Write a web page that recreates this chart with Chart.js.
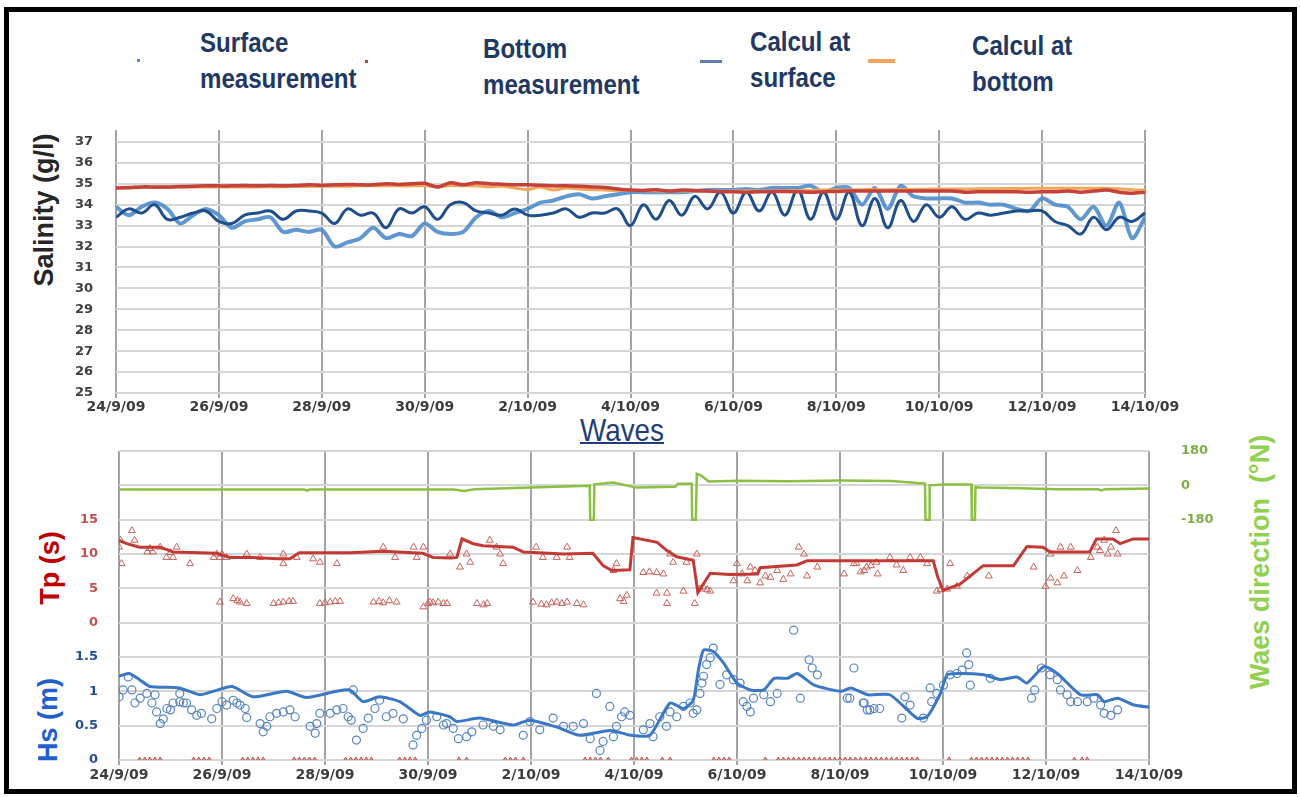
<!DOCTYPE html>
<html>
<head>
<meta charset="utf-8">
<title>Salinity and waves</title>
<script src="https://cdn.jsdelivr.net/npm/chart.js@4.4.1/dist/chart.umd.min.js"></script>
<style>
  html, body { margin: 0; padding: 0; background: #fff; }
  body { width: 1300px; height: 797px; position: relative; overflow: hidden; font-family: 'Liberation Sans', Arial, sans-serif; }
  .frame { position: absolute; left: 4px; top: 7px; width: 1293px; height: 787px; box-sizing: border-box; border: 5px solid #000; pointer-events: none; z-index: 5; }
  .wrap { position: absolute; left: 0; }
  .leg { position: absolute; font-weight: bold; font-size: 28px; line-height: 36px; color: #1f3864; white-space: nowrap; transform: scaleX(0.86); transform-origin: left top; }
  .mark { position: absolute; }
  .vtitle { position: absolute; font-weight: bold; font-size: 27px; white-space: nowrap; transform: translate(-50%, -50%) rotate(-90deg); }
  .waves { position: absolute; left: 622px; top: 414px; transform: translateX(-50%) scaleX(0.87); font-size: 32px; line-height: 32px; color: #1f3e79; text-decoration: underline; text-decoration-thickness: 2px; }
</style>
</head>
<body>
<div class="frame"></div>

<!-- legend of the salinity chart -->
<div class="mark" style="left:137px;top:59px;width:3px;height:3px;background:#4f8ccc;"></div>
<div class="leg" style="left:200px;top:25px;">Surface<br>measurement</div>
<div class="mark" style="left:365px;top:60px;width:3px;height:3px;background:#c5423a;"></div>
<div class="leg" style="left:483px;top:31px;">Bottom<br>measurement</div>
<div class="mark" style="left:700px;top:60px;width:22px;height:3px;background:#5a7db5;"></div>
<div class="leg" style="left:750px;top:24px;">Calcul at<br>surface</div>
<div class="mark" style="left:868px;top:59px;width:27px;height:4px;background:#f4a460;"></div>
<div class="leg" style="left:972px;top:28px;">Calcul at<br>bottom</div>

<div class="vtitle" style="left:44px;top:210px;color:#262626;">Salinity (g/l)</div>
<div class="waves">Waves</div>
<div class="vtitle" style="left:50px;top:568px;color:#c00000;">Tp (s)</div>
<div class="vtitle" style="left:48px;top:720px;color:#1f5fcf;">Hs (m)</div>
<div class="vtitle" style="left:1260px;top:562px;color:#92d050;">Waes direction&nbsp;&nbsp;(°N)</div>

<div class="wrap" style="top:120px;"><canvas id="salChart" width="1300" height="300"></canvas></div>
<div class="wrap" style="top:440px;"><canvas id="waveChart" width="1300" height="357"></canvas></div>

<script>
// Day ticks: every 2 days from 24/9/09
const dateLabels = ['24/9/09', '26/9/09', '28/9/09', '30/9/09', '2/10/09', '4/10/09',
  '6/10/09', '8/10/09', '10/10/09', '12/10/09', '14/10/09'];
const salTicks = [25, 26, 27, 28, 29, 30, 31, 32, 33, 34, 35, 36, 37];
const tpTicks = [0, 5, 10, 15];
const hsTicks = [0, 0.5, 1, 1.5];
const dirTicks = [-180, 0, 180];

// Salinity (g/l), 4 samples a day from 24/9 (day 0) to 14/10 (day 20)
const surfaceMeas = [
  33.9, 33.5, 33.9, 34.1,  33.8, 33.1, 33.5, 33.8,  33.5, 32.9, 33.2, 33.3,
  33.4, 32.7, 32.8, 32.7,  32.8, 32.0, 32.2, 32.4,  32.9, 32.4, 32.6, 32.5,
  33.1, 32.7, 32.6, 32.7,  33.4, 33.7, 33.4, 33.6,  33.8, 34.1, 34.2, 34.4,
  34.5, 34.3, 34.4, 34.5,  34.6, 34.6, 34.6, 34.6,  34.6, 34.65, 34.7, 34.7,
  34.7, 34.75, 34.7, 34.8, 34.8, 34.8, 34.9, 34.6,  34.8, 34.8, 34.0, 34.8,
  33.8, 34.9, 34.4, 34.3,  34.3, 34.3, 34.1, 34.1,  34.0, 34.0, 33.8, 33.7,
  34.3, 34.0, 33.9, 33.3,  33.9, 33.0, 34.1, 32.4,  33.4
];
const bottomMeas = [
  34.8, 34.82, 34.85, 34.85,  34.85, 34.87, 34.88, 34.9,  34.9, 34.9, 34.92, 34.9,
  34.92, 34.9, 34.92, 34.95,  34.93, 34.95, 34.97, 34.95,  34.95, 35.0, 34.97, 35.0,
  35.02, 34.85, 35.05, 34.95, 35.05, 35.0, 34.98, 34.95,  34.95, 34.93, 34.9, 34.9,
  34.88, 34.85, 34.82, 34.75, 34.7, 34.68, 34.72, 34.65,  34.7, 34.68, 34.65, 34.62,
  34.62, 34.6, 34.62, 34.62,  34.63, 34.62, 34.6, 34.62,  34.63, 34.65, 34.65, 34.65,
  34.65, 34.65, 34.65, 34.66, 34.65, 34.65, 34.6, 34.62,  34.62, 34.62, 34.62, 34.6,
  34.62, 34.62, 34.65, 34.6,  34.65, 34.7, 34.6, 34.55,  34.6
];
const calcSurface = [
  33.4, 33.8, 33.6, 34.0,  33.3, 33.4, 33.6, 33.7,  33.2, 33.1, 33.5, 33.6,
  33.7, 33.3, 33.7, 33.7,  33.6, 33.1, 33.8, 33.5,  33.6, 32.9, 33.8, 33.6,
  33.9, 33.3, 34.0, 34.1,  33.7, 33.6, 33.5, 33.8,  33.5, 33.5, 33.6, 33.8,
  33.4, 33.6, 33.6, 33.8,  33.0, 34.0, 33.3, 34.2,  33.5, 34.4, 33.8, 34.6,
  33.6, 34.6, 33.7, 34.6,  33.5, 34.7, 33.3, 34.6,  33.3, 34.6, 33.0, 34.3,
  32.9, 34.2, 33.2, 34.0,  33.4, 33.9, 33.3, 33.6,  33.5, 33.6, 33.7, 33.7,
  33.7, 33.2, 33.0, 32.6,  33.4, 32.8, 33.4, 33.2,  33.6
];
const calcBottom = [
  34.8, 34.8, 34.82, 34.82,  34.83, 34.83, 34.85, 34.85,  34.85, 34.85, 34.85, 34.85,
  34.86, 34.86, 34.87, 34.87,  34.88, 34.88, 34.88, 34.9,  34.9, 34.9, 34.9, 34.9,
  34.92, 34.85, 34.92, 34.9,  34.9, 34.85, 34.88, 34.8,  34.72, 34.85, 34.7, 34.8,
  34.75, 34.72, 34.7, 34.68,  34.68, 34.67, 34.66, 34.65,  34.65, 34.65, 34.64, 34.64,
  34.65, 34.65, 34.65, 34.66,  34.67, 34.68, 34.68, 34.7,  34.7, 34.7, 34.72, 34.72,
  34.72, 34.73, 34.73, 34.74,  34.75, 34.75, 34.75, 34.76,  34.76, 34.77, 34.77, 34.78,
  34.78, 34.78, 34.78, 34.78,  34.78, 34.78, 34.76, 34.72,  34.7
];
const salDays = surfaceMeas.map((_, i) => i / 4);

// Wave direction (°N)
const dirDays = [0, 2, 3.6, 3.65, 3.7, 4.5, 6.5, 6.7, 6.9, 8, 9.14, 9.15, 9.22, 9.23, 9.6,
  10.05, 10.8, 10.85, 11.12, 11.13, 11.2, 11.22, 11.3, 11.45, 12, 13, 14, 15, 15.5, 15.65,
  15.66, 15.73, 15.74, 16, 16.5, 16.55, 16.56, 16.62, 16.63, 16.75, 17.5, 18.2, 19, 19.07, 19.15, 20];
const dirDeg = [-22, -22, -22, -28, -22, -22, -22, -30, -20, -12, -2, -180, -180, 5, 15,
  -12, -8, 8, 8, -180, -180, 60, 52, 20, 24, 22, 25, 23, 12, 10,
  -180, -180, 0, 5, 5, 5, -180, -180, -10, -12, -15, -20, -20, -27, -20, -17];

// Peak period Tp (s): model line
const tpModelDays = [0, 0.15, 0.4, 0.8, 1.05, 1.57, 1.9, 2.15, 2.6, 3.07, 3.32, 3.5, 4.49, 5.13, 5.9,
  6.1, 6.45, 6.56, 6.66, 6.88, 7.07, 7.65, 7.85, 8.63, 9.2, 9.4, 9.57, 9.92, 9.98, 10.45,
  10.64, 10.83, 11.15, 11.24, 11.48, 11.86, 12.4, 12.45, 13.16, 13.36, 14.78, 15.81, 15.9, 16.0, 16.33,
  16.78, 17.37, 17.63, 17.94, 18.08, 18.85, 18.98, 19.3, 19.44, 19.69, 20];
const tpModel = [12.0, 11.5, 11.0, 11.0, 10.3, 10.2, 10.1, 9.5, 9.5, 9.3, 9.3, 10.2, 10.2, 10.4, 10.1,
  9.5, 9.4, 9.5, 12.2, 11.5, 11.2, 11.0, 10.3, 10.0, 10.1, 8.3, 7.6, 7.7, 12.4, 11.7,
  10.5, 9.6, 9.1, 4.4, 7.2, 7.0, 7.1, 8.0, 8.4, 9.0, 9.0, 9.0, 6.6, 4.7, 5.6,
  8.3, 8.3, 11.1, 11.0, 10.3, 10.3, 12.2, 12.2, 11.5, 12.2, 12.2];

// Tp measurements [day, s]
const tpMeas = [
  [0, 11], [0.03, 12], [0.05, 8.6], [0.25, 13.4], [0.3, 12], [0.55, 10.3], [0.6, 10.8], [0.66, 10.3],
  [0.8, 11], [0.92, 9.5], [1.0, 10.2], [1.05, 9.5], [1.12, 11], [1.38, 8.6], [1.84, 9.5], [1.9, 10],
  [1.96, 9.5], [2.0, 10], [2.09, 9.5], [2.48, 10], [2.74, 9.5], [3.19, 10], [3.19, 8.6], [3.45, 9.5],
  [3.77, 9.3], [3.9, 8.8], [4.23, 8.6], [5.13, 11], [5.36, 9.5], [5.72, 11], [5.78, 9.5], [5.91, 11],
  [1.96, 3.0], [2.22, 3.5], [2.3, 3.2], [2.35, 3.0], [2.48, 2.8], [3.0, 2.8], [3.1, 2.9], [3.19, 3.0],
  [3.3, 3.1], [3.38, 3.1], [3.9, 2.8], [4.0, 2.9], [4.1, 3.0], [4.2, 3.1], [4.29, 3.1], [4.94, 3.0],
  [5.05, 3.1], [5.13, 2.9], [5.25, 3.2], [5.39, 3.0], [5.91, 2.3], [6.0, 2.8], [6.1, 2.9], [6.2, 3.0],
  [6.37, 2.8],
  [6.43, 10], [6.62, 8.1], [6.75, 10], [6.82, 8.8], [7.2, 12], [7.33, 11], [7.4, 10], [7.46, 8.6],
  [8.1, 11], [8.23, 9.5], [8.5, 9.5], [8.7, 11], [8.75, 9.5], [9.6, 7.6], [9.66, 8.6], [10.18, 7.3],
  [10.3, 7.4], [10.44, 7.3], [10.57, 7.1], [10.7, 10], [10.76, 8.8], [11.02, 8.8], [11.22, 10], [11.28, 4.9],
  [11.35, 5.2], [11.42, 4.8], [11.48, 4.6], [11.93, 6.1], [12.0, 8.6], [12.1, 7.1], [12.2, 6.1], [12.26, 8.1],
  [12.35, 7.6], [12.45, 5.8], [12.55, 6.8], [12.65, 6.6], [12.78, 7.6], [12.9, 6.3], [13.04, 7.1], [13.2, 11],
  [13.3, 10], [13.36, 6.8], [13.56, 8.1], [14.08, 7.1], [14.27, 8.6], [14.47, 7.6], [14.6, 8.3], [14.73, 7.1],
  [6.04, 3.0], [6.3, 2.8], [6.95, 2.8], [7.08, 2.6], [7.15, 2.8], [8.04, 3.0], [8.2, 2.7], [8.3, 2.6],
  [8.4, 2.9], [8.5, 3.0], [8.6, 2.8], [8.7, 3.0], [8.89, 2.8], [9.02, 2.6], [9.73, 3.5], [9.8, 3.1],
  [9.86, 4.0], [10.44, 4.3], [10.64, 4.3], [10.64, 2.8], [10.96, 4.6], [11.18, 2.8],
  [14.32, 8.6], [14.4, 7.4], [14.52, 8.1], [14.71, 8.8], [14.97, 9.5], [15.1, 8.4], [15.23, 7.6], [15.36, 9.5],
  [15.56, 9.5], [15.69, 8.6], [15.88, 4.6], [15.95, 4.8], [16.08, 4.9], [16.14, 8.6], [16.27, 5.3], [16.47, 6.8],
  [16.89, 6.8], [17.76, 8.1], [17.99, 5.3], [18.09, 6.5], [18.09, 10], [18.22, 5.8], [18.28, 11], [18.35, 6.8],
  [18.48, 11], [18.61, 7.6], [18.87, 9.5], [19.0, 11], [19.05, 10.5], [19.13, 12], [19.2, 10], [19.26, 11],
  [19.36, 13.4], [19.39, 10]
];

// Significant height Hs (m): model line
const hsModelDays = [0, 0.2, 0.4, 0.6, 1.17, 1.57, 1.83, 2.2, 2.6, 3.25, 3.64, 4.22, 4.48, 4.74, 5.06,
  5.45, 5.84, 6.03, 6.42, 6.56, 7.0, 7.65, 7.97, 8.5, 8.95, 9.54, 9.93, 10.31, 10.7, 10.96,
  11.15, 11.25, 11.35, 11.54, 11.74, 12.0, 12.26, 12.52, 12.72, 12.98, 13.17, 13.5, 14.02, 14.21, 14.54,
  14.97, 15.49, 15.69, 15.95, 16.08, 16.34, 16.79, 17.12, 17.44, 17.63, 17.96, 18.22, 18.67, 19.0, 19.13,
  19.39, 19.71, 20];
const hsModel = [1.22, 1.26, 1.17, 1.07, 1.05, 0.95, 1.0, 1.07, 0.92, 1.0, 0.91, 1.0, 1.02, 0.85, 0.92,
  0.85, 0.65, 0.7, 0.63, 0.56, 0.61, 0.51, 0.58, 0.48, 0.36, 0.43, 0.36, 0.36, 0.83, 0.75,
  0.87, 1.31, 1.6, 1.58, 1.41, 1.12, 1.02, 1.02, 1.19, 1.19, 1.26, 1.09, 1.0, 1.05, 0.95,
  0.95, 0.61, 0.63, 0.97, 1.24, 1.26, 1.24, 1.17, 1.21, 1.12, 1.36, 1.26, 0.95, 0.95, 0.85,
  0.9, 0.8, 0.77];

// Hs measurements [day, m]
const hsMeas = [
  [0, 0.92], [0.08, 1.02], [0.18, 1.21], [0.25, 1.02], [0.31, 0.83], [0.41, 0.9], [0.54, 0.97], [0.64, 0.83],
  [0.7, 0.95], [0.73, 0.7], [0.8, 0.53], [0.86, 0.6], [0.93, 0.75], [1.0, 0.73], [1.05, 0.83], [1.18, 0.85],
  [1.18, 0.97], [1.25, 0.83], [1.31, 0.83], [1.41, 0.73], [1.51, 0.65], [1.6, 0.68], [1.8, 0.6], [1.9, 0.75],
  [2.0, 0.85], [2.09, 0.8], [2.22, 0.87], [2.29, 0.83], [2.35, 0.8], [2.45, 0.75], [2.48, 0.62], [2.74, 0.53],
  [2.8, 0.41], [2.87, 0.49], [2.93, 0.63], [3.06, 0.68], [3.19, 0.7], [3.32, 0.73], [3.42, 0.63], [3.71, 0.49],
  [3.81, 0.39], [3.84, 0.53], [3.9, 0.68], [4.1, 0.68], [4.23, 0.73], [4.35, 0.75], [4.45, 0.63], [4.51, 0.58],
  [4.55, 1.02], [4.61, 0.29], [4.74, 0.46], [4.84, 0.61], [4.97, 0.75], [5.06, 0.87], [5.19, 0.63], [5.32, 0.68],
  [5.52, 0.6], [5.71, 0.22], [5.78, 0.36], [5.88, 0.46], [5.97, 0.58], [6.17, 0.63], [6.36, 0.53],
  [6.3, 0.51], [6.49, 0.46], [6.59, 0.31], [6.75, 0.34], [6.85, 0.41], [7.07, 0.51], [7.27, 0.49], [7.4, 0.44],
  [7.85, 0.36], [7.98, 0.56], [8.17, 0.44], [8.43, 0.61], [8.63, 0.49], [8.82, 0.49], [9.02, 0.53], [9.15, 0.31],
  [9.27, 0.97], [9.34, 0.14], [9.4, 0.27], [9.53, 0.78], [9.6, 0.34], [9.66, 0.49], [9.76, 0.63], [9.82, 0.7],
  [9.92, 0.65], [10.18, 0.44], [10.31, 0.53], [10.37, 0.34], [10.5, 0.63], [10.63, 0.49], [10.7, 0.7], [10.83, 0.63],
  [10.96, 0.78], [11.09, 0.83], [11.15, 0.68], [11.22, 0.73], [11.28, 0.97], [11.32, 1.12], [11.35, 1.22], [11.41, 1.39],
  [11.48, 1.49], [11.54, 1.63], [11.67, 1.1], [11.8, 1.24], [11.93, 1.17], [12.06, 1.12], [12.12, 0.85], [12.19, 0.78],
  [12.26, 0.7], [12.32, 0.9], [12.52, 0.95], [12.65, 0.85], [12.78, 0.97], [13.1, 1.89], [13.23, 0.9], [13.4, 1.46],
  [13.46, 1.34], [13.56, 1.24], [14.14, 0.9], [14.27, 1.34], [14.47, 0.83], [14.53, 0.73], [14.66, 0.75],
  [14.19, 0.9], [14.45, 0.83], [14.58, 0.73], [14.77, 0.75], [15.2, 0.61], [15.26, 0.92], [15.36, 0.8], [15.62, 0.61],
  [15.75, 1.05], [15.78, 0.85], [15.88, 0.97], [16.01, 1.09], [16.14, 1.24], [16.27, 1.26], [16.37, 1.31], [16.46, 1.56],
  [16.5, 1.39], [16.53, 1.09], [16.92, 1.19], [17.72, 0.9], [17.78, 1.02], [17.91, 1.34], [18.08, 1.24], [18.22, 1.17],
  [18.28, 1.02], [18.41, 0.95], [18.48, 0.85], [18.61, 0.85], [18.8, 0.85], [18.93, 0.9], [19.06, 0.8], [19.13, 0.68],
  [19.26, 0.65], [19.39, 0.73]
];
// Days where the record shows Hs = 0
const hsZeroDays = [0.4, 0.5, 0.6, 0.7, 0.8, 1.45, 1.55, 1.65, 1.75, 2.4, 2.5, 2.6, 2.7, 2.8,
  3.4, 3.5, 3.6, 3.7, 3.8, 4.4, 4.5, 4.6, 4.7, 4.8, 4.9, 5.45, 5.55, 5.65, 5.75, 6.6, 6.75,
  7.5, 7.6, 7.7, 7.85, 9.05, 9.15, 9.25, 9.35, 9.5, 9.95, 10.05, 10.15, 10.25, 10.55, 10.7,
  11.55, 11.65, 11.75, 11.85, 12.55, 12.8, 12.9, 13.0, 13.1, 13.2, 13.3, 13.4, 13.5, 13.6, 13.7,
  13.8, 13.9, 14.0, 14.1, 14.2, 14.3, 14.4, 14.5, 14.6, 14.7, 14.8, 14.9, 15.0, 15.1, 15.2, 15.3,
  15.4, 15.5, 16.12, 16.55, 16.65, 16.75, 16.85, 16.95, 17.05, 17.15, 17.25, 17.35, 17.45, 17.55,
  17.65, 18.55, 18.7, 18.8];

const pts = (xs, ys) => xs.map((x, i) => ({ x: x, y: ys[i] }));
const pairPts = (list) => list.map(([x, y]) => ({ x: x, y: y }));

Chart.defaults.font.family = "'DejaVu Sans', sans-serif";
Chart.defaults.font.weight = 'bold';

// fixed axis sizes so the plot areas sit where the picture has them
const fixWidth = (w) => (s) => { s.width = w; s.paddingTop = 0; s.paddingBottom = 0; };
const fixHeight = (h) => (s) => { s.height = h; s.paddingLeft = 0; s.paddingRight = 0; };

const dateAxis = (height, pad) => ({
  type: 'linear',
  min: 0,
  max: 20,
  afterBuildTicks: (s) => { s.ticks = dateLabels.map((_, i) => ({ value: i * 2 })); },
  afterFit: fixHeight(height),
  ticks: {
    autoSkip: false,
    maxRotation: 0,
    padding: pad,
    color: '#3c3c3c',
    font: { size: 14, weight: 'bold' },
    callback: (v) => dateLabels[Math.round(v / 2)]
  },
  grid: { color: '#a3a3a3', lineWidth: 2, tickLength: 5 },
  border: { display: false }
});

// Salinity chart
new Chart(document.getElementById('salChart'), {
  type: 'line',
  data: {
    datasets: [
      { label: 'Bottom measurement', data: pts(salDays, bottomMeas), borderColor: '#c5423a', borderWidth: 3.5, pointRadius: 0, tension: 0.3, order: 0 },
      { label: 'Calcul at bottom', data: pts(salDays, calcBottom), borderColor: '#f2a65a', borderWidth: 3, pointRadius: 0, tension: 0.3, order: 1 },
      { label: 'Calcul at surface', data: pts(salDays, calcSurface), borderColor: '#1f4e8c', borderWidth: 3, pointRadius: 0, tension: 0.4, order: 2 },
      { label: 'Surface measurement', data: pts(salDays, surfaceMeas), borderColor: 'rgba(79,140,204,0.9)', borderWidth: 4, pointRadius: 0, tension: 0.3, order: 3 }
    ]
  },
  options: {
    responsive: false,
    animation: false,
    events: [],
    layout: { padding: { top: 10, right: 155, left: 0, bottom: 0 } },
    plugins: { legend: { display: false }, tooltip: { enabled: false } },
    scales: {
      x: dateAxis(27, 1),
      y: {
        min: 25,
        max: 37.57,
        afterBuildTicks: (s) => { s.ticks = salTicks.map((v) => ({ value: v })); },
        afterFit: fixWidth(116),
        ticks: { padding: 23, color: '#404040', font: { size: 13, weight: 'bold' } },
        grid: { color: '#d6d6d6', lineWidth: 2, drawTicks: false },
        border: { display: false }
      }
    }
  }
});

// Waves chart: Tp and Hs share the left side, direction on the right
new Chart(document.getElementById('waveChart'), {
  type: 'line',
  data: {
    datasets: [
      { label: 'Direction', yAxisID: 'dir', data: pts(dirDays, dirDeg), borderColor: '#8cc043', borderWidth: 2.5, pointRadius: 0, tension: 0, order: 3 },
      { label: 'Tp model', yAxisID: 'tp', data: pts(tpModelDays, tpModel), borderColor: '#c33a35', borderWidth: 3, pointRadius: 0, tension: 0, order: 1 },
      { label: 'Tp measured', yAxisID: 'tp', data: pairPts(tpMeas), showLine: false, pointStyle: 'triangle', pointRadius: 4, borderColor: '#c8625c', backgroundColor: 'rgba(255,255,255,0)', pointBorderWidth: 1, order: 2 },
      { label: 'Hs model', yAxisID: 'hs', data: pts(hsModelDays, hsModel), borderColor: '#3a78c6', borderWidth: 3, pointRadius: 0, tension: 0.2, order: 1 },
      { label: 'Hs measured', yAxisID: 'hs', data: pairPts(hsMeas), showLine: false, pointStyle: 'circle', pointRadius: 4, borderColor: '#5584c2', backgroundColor: 'rgba(255,255,255,0)', pointBorderWidth: 1.2, order: 2 },
      { label: 'Hs zero', yAxisID: 'hs', data: hsZeroDays.map((d) => ({ x: d, y: 0 })), showLine: false, pointStyle: 'triangle', pointRadius: 3, borderColor: '#c0504d', backgroundColor: 'rgba(192,80,77,0.45)', pointBorderWidth: 1, order: 2 }
    ]
  },
  options: {
    responsive: false,
    animation: false,
    events: [],
    layout: { padding: { top: 11, right: 0, left: 0, bottom: 0 } },
    plugins: { legend: { display: false }, tooltip: { enabled: false } },
    scales: {
      x: dateAxis(37, 2),
      tp: {
        position: 'left',
        weight: 1,
        min: -20,
        max: 25,
        afterFit: fixWidth(119),
        ticks: { stepSize: 5, padding: 21, color: '#c0504d', font: { size: 13, weight: 'bold' },
          callback: (v) => (tpTicks.includes(v) ? v : '') },
        grid: { color: '#d6d6d6', lineWidth: 2, drawTicks: false },
        border: { display: false }
      },
      hs: {
        // zero-width axis lying on the plot edge; mirrored labels pulled back left of it
        position: 'left',
        weight: 0,
        min: 0,
        max: 4.5,
        afterFit: fixWidth(0),
        ticks: { stepSize: 0.5, mirror: true, crossAlign: 'far', padding: -44, color: '#1f4e9a', font: { size: 13, weight: 'bold' },
          callback: (v) => (hsTicks.includes(v) ? v : '') },
        grid: { display: false },
        border: { display: false }
      },
      dir: {
        position: 'right',
        min: -1440,
        max: 180,
        afterFit: fixWidth(151),
        ticks: { stepSize: 180, padding: 24, color: '#7fae47', font: { size: 13, weight: 'bold' },
          callback: (v) => (dirTicks.includes(v) ? v : '') },
        grid: { display: false },
        border: { display: false }
      }
    }
  }
});
</script>
</body>
</html>
